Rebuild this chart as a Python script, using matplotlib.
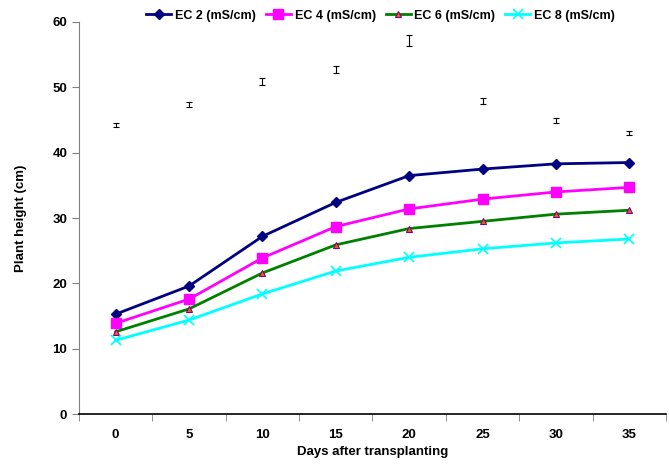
import matplotlib
matplotlib.use("Agg")
import matplotlib.pyplot as plt
import numpy as np

plt.rcParams['font.family'] = ['Liberation Sans', 'DejaVu Sans']

days = ["0", "5", "10", "15", "20", "25", "30", "35"]
ec2 = [15.3, 19.6, 27.2, 32.4, 36.5, 37.5, 38.3, 38.5]
ec4 = [13.9, 17.6, 23.9, 28.7, 31.4, 32.9, 34.0, 34.7]
ec6 = [12.6, 16.1, 21.6, 25.9, 28.4, 29.5, 30.6, 31.2]
ec8 = [11.3, 14.4, 18.4, 21.9, 24.0, 25.3, 26.2, 26.8]
# LSD-style bars floating above the curves
lsd_pos = [44.2, 47.4, 50.9, 52.7, 57.2, 47.9, 44.9, 43.0]
lsd_half = [0.3, 0.35, 0.5, 0.55, 0.8, 0.4, 0.35, 0.3]

x = np.arange(len(days))

fig = plt.figure(figsize=(6.69, 4.68), dpi=100)
ax = fig.add_axes([0.118, 0.115, 0.8775, 0.838])

ax.plot(x, ec2, color='#000080', lw=2, marker='D', ms=5.5, label='EC 2 (mS/cm)')
ax.plot(x, ec4, color='#FF00FF', lw=2, marker='s', ms=6.5, label='EC 4 (mS/cm)')
ax.plot(x, ec6, color='#008000', lw=2, marker='^', ms=5, mfc='#E8641E',
        mec='#800080', mew=0.8, label='EC 6 (mS/cm)')
ax.plot(x, ec8, color='#00FFFF', lw=2, marker='x', ms=7, mew=1.2, label='EC 8 (mS/cm)')

ax.errorbar(x, lsd_pos, yerr=lsd_half, fmt='none', ecolor='black', elinewidth=0.8,
            capsize=2.5, capthick=0.8)

ax.set_xlim(-0.5, 7.5)
ax.set_ylim(0, 60)
ax.set_yticks(range(0, 61, 10))
ax.set_xticks(x)
ax.set_xticklabels(days)
ax.set_xticks(np.arange(-0.5, 8, 1), minor=True)
ax.tick_params(axis='x', which='major', length=0, pad=11)
ax.tick_params(axis='x', which='minor', length=5, direction='out', color='#808080')
ax.tick_params(axis='y', length=5, direction='out', color='#808080')
for lab in ax.get_xticklabels() + ax.get_yticklabels():
    lab.set_fontweight('bold')
    lab.set_fontsize(9.5)

for s in ['top', 'right']:
    ax.spines[s].set_visible(False)
ax.spines['left'].set_color('#808080')
ax.spines['bottom'].set_color('black')
ax.spines['bottom'].set_linewidth(1.2)

ax.set_xlabel('Days after transplanting', fontweight='bold', fontsize=9.5, labelpad=3)
ax.set_ylabel('Plant height (cm)', fontweight='bold', fontsize=9.5, labelpad=18)

ax.legend(loc='upper center', bbox_to_anchor=(0.514, 1.06), ncol=4, frameon=False,
          prop={'weight': 'bold', 'size': 9}, handlelength=2.0, columnspacing=0.8,
          handletextpad=0.3)

fig.savefig('out.png', dpi=100)
